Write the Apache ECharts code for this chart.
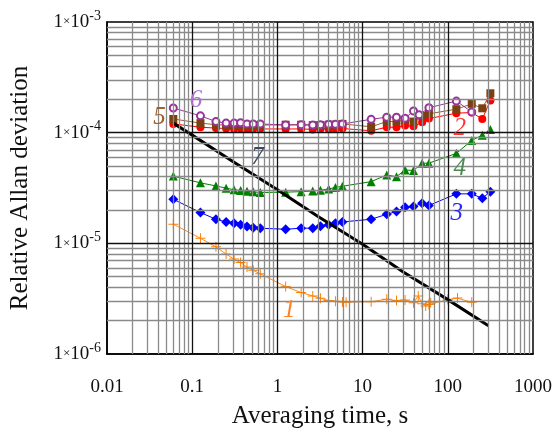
<!DOCTYPE html>
<html><head><meta charset="utf-8">
<script src="https://cdn.jsdelivr.net/npm/echarts@6/dist/echarts.min.js"></script>
<style>html,body{margin:0;padding:0;background:#fff}#c{width:555px;height:434px}</style>
</head><body><div id="c"></div>
<script>
// ---- data ----
const xTickLabels = {'-2':'0.01','-1':'0.1','0':'1','1':'10','2':'100','3':'1000'};
const yTickExponents = [-6,-5,-4,-3];

const tauMain = [0.06,0.125,0.19,0.25,0.31,0.37,0.44,0.52,0.63,1.25,1.9,2.6,3.2,4.0,4.8,5.8,12.6,19.2,25,31.5,39.6,50,60,126,191,254,316];
const dev2 = [1.20e-4,1.12e-4,1.10e-4,1.09e-4,1.08e-4,1.09e-4,1.08e-4,1.08e-4,1.08e-4,1.08e-4,1.08e-4,1.07e-4,1.08e-4,1.08e-4,1.08e-4,1.09e-4,1.04e-4,1.12e-4,1.12e-4,1.16e-4,1.14e-4,1.24e-4,1.34e-4,1.50e-4,1.52e-4,1.33e-4,1.95e-4];
const dev5 = [1.33e-4,1.22e-4,1.18e-4,1.17e-4,1.17e-4,1.16e-4,1.17e-4,1.16e-4,1.17e-4,1.18e-4,1.18e-4,1.17e-4,1.17e-4,1.18e-4,1.18e-4,1.20e-4,1.13e-4,1.26e-4,1.26e-4,1.30e-4,1.26e-4,1.42e-4,1.48e-4,1.63e-4,1.82e-4,1.66e-4,2.27e-4];
const dev4 = [4.05e-5,3.52e-5,3.30e-5,3.15e-5,3.05e-5,3.00e-5,2.95e-5,2.92e-5,2.88e-5,2.90e-5,2.93e-5,2.97e-5,3.02e-5,3.10e-5,3.20e-5,3.28e-5,3.61e-5,4.15e-5,4.00e-5,4.60e-5,4.55e-5,5.30e-5,5.30e-5,6.50e-5,8.50e-5,9.50e-5,1.07e-4];
const dev3 = [2.50e-5,1.90e-5,1.65e-5,1.56e-5,1.52e-5,1.47e-5,1.42e-5,1.38e-5,1.37e-5,1.34e-5,1.37e-5,1.37e-5,1.43e-5,1.47e-5,1.52e-5,1.56e-5,1.65e-5,1.83e-5,1.94e-5,2.12e-5,2.15e-5,2.30e-5,2.20e-5,2.80e-5,2.80e-5,2.55e-5,2.93e-5];

const tau6 = [0.06,0.125,0.19,0.25,0.31,0.37,0.44,0.52,0.63,1.25,1.9,2.6,3.2,4.0,4.8,5.8,12.6,19.2,25,31.5,39.6,46,60,126,191];
const dev6 = [1.67e-4,1.42e-4,1.26e-4,1.22e-4,1.22e-4,1.23e-4,1.20e-4,1.20e-4,1.20e-4,1.17e-4,1.18e-4,1.17e-4,1.18e-4,1.19e-4,1.19e-4,1.20e-4,1.32e-4,1.38e-4,1.38e-4,1.35e-4,1.57e-4,1.45e-4,1.68e-4,1.93e-4,1.54e-4];

const tau1 = [0.06,0.125,0.19,0.25,0.31,0.37,0.44,0.52,0.63,1.25,1.9,2.6,3.2,4.0,4.8,5.8,6.4,12.6,19.2,25,31.5,39.6,45,50,55,60,63,100,130,191];
const dev1 = [1.49e-5,1.11e-5,9.3e-6,8.0e-6,7.2e-6,6.7e-6,6.1e-6,5.7e-6,5.3e-6,4.07e-6,3.59e-6,3.35e-6,3.19e-6,3.04e-6,3.0e-6,2.95e-6,2.93e-6,2.97e-6,3.13e-6,3.04e-6,3.08e-6,2.91e-6,3.35e-6,2.85e-6,2.72e-6,2.80e-6,2.90e-6,3.10e-6,3.20e-6,2.93e-6];

const tau7 = [0.06,0.1,0.3,1,3,10,30,100,300];
const dev7 = [1.22e-4,9.5e-5,5.5e-5,3.05e-5,1.75e-5,9.8e-6,5.5e-6,3.1e-6,1.8e-6];

const curveLabels = ['1','2','3','4','5','6','7'];
const curveLabelAnchors = [[1.38,2.5e-6],[138,1.1e-4],[127,1.88e-5],[138,4.8e-5],[0.0413,1.36e-4],[0.111,1.97e-4],[0.585,6.0e-5]];
const curveLabelColors = ['#ff7f27','#ff3333','#2a2aff','#4a8a50','#a0602a','#b070d0','#3a4a66'];

// ---- chart ----
const X0 = 0.01, X1 = 1000, Y0 = 1e-6, Y1 = 1e-3;
const zip = (xs, ys) => xs.map((x, i) => [x, ys[i]]);
const vLine = x => [{coord: [x, Y0]}, {coord: [x, Y1]}];
const hLine = y => [{coord: [X0, y]}, {coord: [X1, y]}];
const minorLines = [], majorLines = [];
for (let e = -2; e <= 2; e++) for (let m = 2; m <= 9; m++) minorLines.push(vLine(m * Math.pow(10, e)));
for (let e = -6; e <= -4; e++) for (let m = 2; m <= 9; m++) minorLines.push(hLine(m * Math.pow(10, e)));
for (let e = -1; e <= 2; e++) majorLines.push(vLine(Math.pow(10, e)));
for (let e = -5; e <= -4; e++) majorLines.push(hLine(Math.pow(10, e)));

const serif = 'Liberation Serif';
const plus = 'path://M4.5,0H5.5V4.5H10V5.5H5.5V10H4.5V5.5H0V4.5H4.5Z';

function lineSeries(name, data, color, symbol, size, extra) {
  return Object.assign({
    name, type: 'line', data, symbol, symbolSize: size,
    lineStyle: {color, width: 1}, itemStyle: {color},
    animation: false, z: 3
  }, extra || {});
}

const chart = echarts.init(document.getElementById('c'), null, {renderer: 'canvas'});
chart.setOption({
  animation: false,
  backgroundColor: '#fff',
  grid: {left: 106, right: 19, top: 22, bottom: 80, show: true, borderColor: '#000', borderWidth: 1.5, backgroundColor: 'transparent'},
  xAxis: {
    type: 'log', min: X0, max: X1, logBase: 10,
    name: 'Averaging time, s', nameLocation: 'middle', nameGap: 50,
    nameTextStyle: {fontFamily: serif, fontSize: 25, color: '#111'},
    axisLine: {show: true, lineStyle: {color: '#000', width: 1.5}},
    axisTick: {show: false}, splitLine: {show: false},
    axisLabel: {
      fontFamily: serif, fontSize: 19, color: '#111', margin: 24,
      formatter: v => xTickLabels[String(Math.round(Math.log10(v)))] || ''
    }
  },
  yAxis: {
    type: 'log', min: Y0, max: Y1, logBase: 10,
    name: 'Relative Allan deviation', nameLocation: 'middle', nameGap: 74,
    nameTextStyle: {fontFamily: serif, fontSize: 25, color: '#111'},
    axisLine: {show: true, lineStyle: {color: '#000', width: 1.5}},
    axisTick: {show: false}, splitLine: {show: false},
    axisLabel: {
      margin: 6,
      formatter: v => {
        const e = Math.round(Math.log10(v));
        return yTickExponents.indexOf(e) >= 0 ? '{n|1}{x|×}{n|10}{s|' + e + '}' : '';
      },
      rich: {
        n: {fontFamily: serif, fontSize: 19, color: '#111'},
        x: {fontFamily: serif, fontSize: 13, color: '#111'},
        s: {fontFamily: serif, fontSize: 14, color: '#111', padding: [0, 0, 12, 0]}
      }
    }
  },
  series: [
    {
      type: 'line', data: [[1, 1e-5]], symbol: 'none', lineStyle: {opacity: 0}, silent: true, z: 1,
      markLine: {
        silent: true, symbol: ['none', 'none'], label: {show: false}, animation: false,
        lineStyle: {color: '#8a8a8a', width: 1.3, type: 'solid'},
        data: minorLines
      }
    },
    {
      type: 'line', data: [[1, 1e-5]], symbol: 'none', lineStyle: {opacity: 0}, silent: true, z: 1.5,
      markLine: {
        silent: true, symbol: ['none', 'none'], label: {show: false}, animation: false,
        lineStyle: {color: '#111', width: 1.3, type: 'solid'},
        data: majorLines
      }
    },
    lineSeries('1', zip(tau1, dev1), '#ff8c1a', plus, 10, {itemStyle: {color: '#ff8000'}}),
    lineSeries('3', zip(tauMain, dev3), '#0000ff', 'diamond', 10),
    lineSeries('4', zip(tauMain, dev4), '#008000', 'triangle', 9),
    lineSeries('2', zip(tauMain, dev2), '#ff0000', 'circle', 8),
    lineSeries('5', zip(tauMain, dev5), '#7a4010', 'rect', 8, {lineStyle: {color: '#9a6030', width: 1}}),
    lineSeries('6', zip(tau6, dev6), '#993399', 'emptyCircle', 7, {itemStyle: {color: '#993399', borderWidth: 0.8}}),
    lineSeries('7', zip(tau7, dev7), '#000000', 'none', 0, {lineStyle: {color: '#000', width: 3}, z: 4})
  ]
});

const gfx = curveLabels.map((t, i) => {
  const p = chart.convertToPixel({gridIndex: 0}, curveLabelAnchors[i]);
  return {
    type: 'text', x: p[0], y: p[1], z: 10,
    style: {text: t, fill: curveLabelColors[i], font: 'italic 25px "Liberation Serif"', textAlign: 'center', textVerticalAlign: 'middle'}
  };
});
chart.setOption({graphic: gfx});
</script>
</body></html>
